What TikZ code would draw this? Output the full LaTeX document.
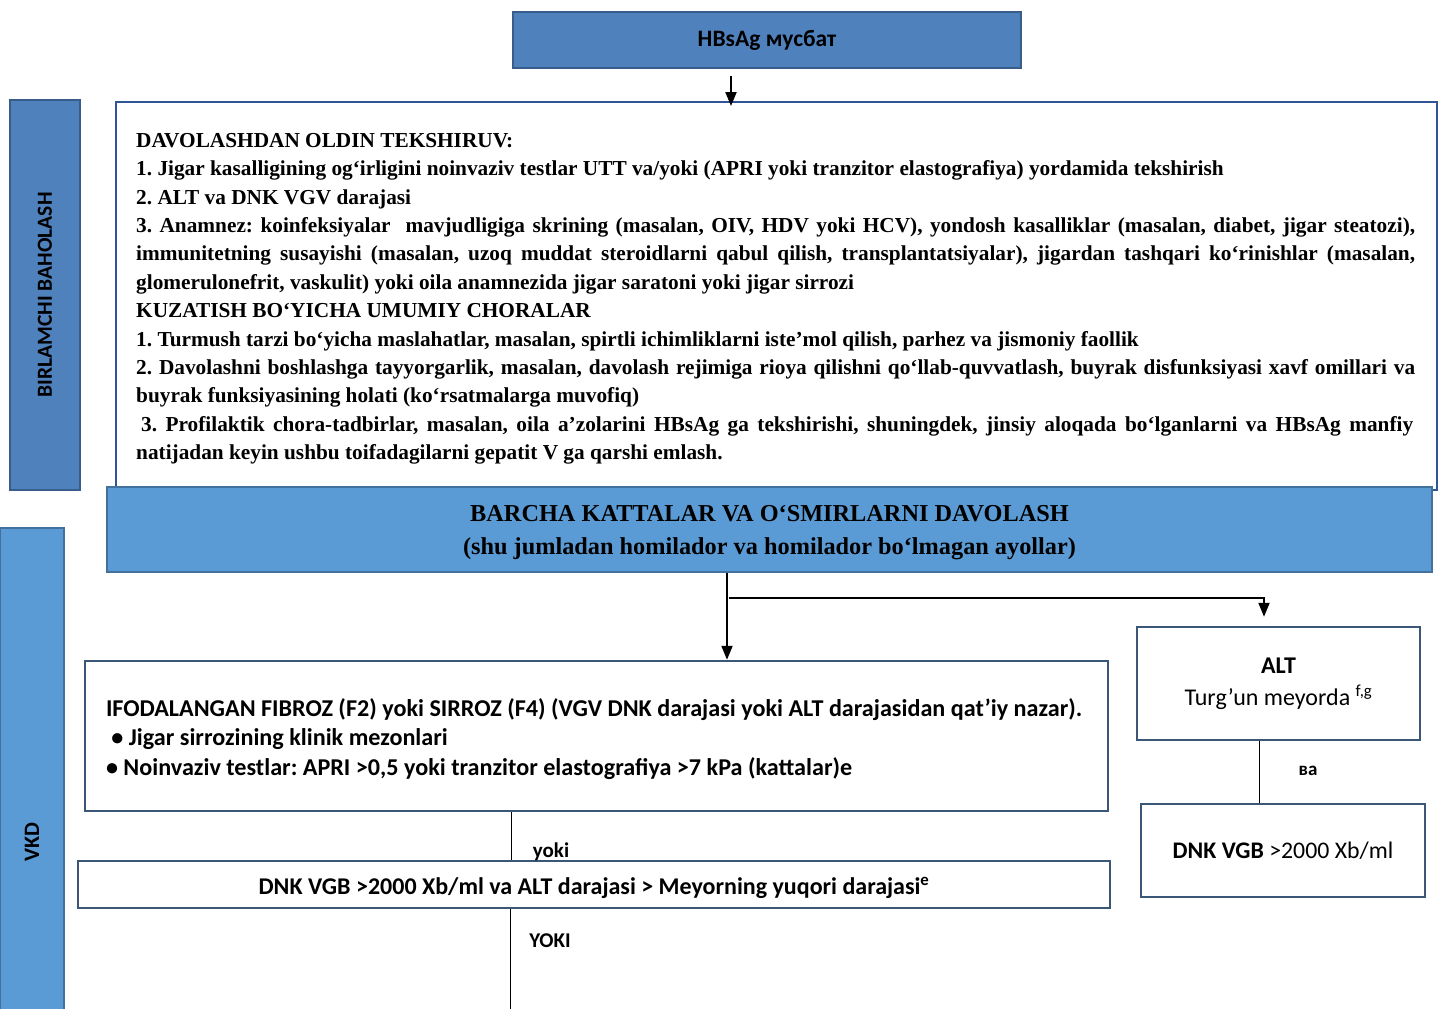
\documentclass[tikz,border=0pt]{standalone}
\usepackage{fontspec}
\setmainfont{Liberation Serif}
\newfontfamily\calfont{Carlito}
\usetikzlibrary{arrows.meta}
\definecolor{blueA}{HTML}{4F81BD}
\definecolor{blueB}{HTML}{5B9BD5}
\definecolor{edgeA}{HTML}{385D8A}
\definecolor{edgeB}{HTML}{41719C}
\definecolor{edgeW}{HTML}{3B5778}
\definecolor{edgeT}{HTML}{2F5597}
\newcommand{\natsp}{\spaceskip=0pt\xspaceskip=0pt\relax}
\newcommand{\jline}[1]{\leavevmode\hbox to 1279pt{#1}}
\frenchspacing
\begin{document}
\begin{tikzpicture}[x=1pt,y=-1pt,
  darkbox/.style={draw=edgeA, fill=blueA, line width=2.5pt, inner sep=0pt},
  lightbox/.style={draw=edgeB, fill=blueB, line width=2.5pt, inner sep=0pt},
  whitebox/.style={draw=edgeW, fill=white, line width=2.5pt, inner sep=0pt},
  arr/.style={-{Triangle[length=14pt,width=11pt]}, line width=2pt, black},
  thinline/.style={line width=1pt, black},
  sanslab/.style={font=\calfont\bfseries\fontsize{21}{25}\selectfont, inner sep=0pt}
]
\useasboundingbox (0,0) rectangle (1443,1009);

% top box
\node[darkbox, minimum width=508pt, minimum height=56pt,
      font=\calfont\bfseries\fontsize{23.5}{26}\selectfont] (hbs) at (767,40) {HBsAg мусбат};

% left side boxes
\node[darkbox, rotate=90, minimum width=390pt, minimum height=70pt,
      font=\calfont\bfseries\fontsize{21.5}{24}\selectfont] (birl) at (45,295) {BIRLAMCHI BAHOLASH};
\node[lightbox, rotate=90, minimum width=628pt, minimum height=64pt,
      font=\calfont\bfseries\fontsize{22}{26}\selectfont] (vkd) at (32,842) {VKD};

% big examination box
\node[draw=edgeT, fill=white, line width=2pt, minimum width=1321pt, minimum height=388pt,
      anchor=north west, inner sep=0pt] (exam) at (115,101) {};
\node[anchor=north west, inner sep=0pt, text width=1279pt, align=left,
      font=\bfseries\fontsize{21.3}{28.4}\selectfont] (examtext) at (136,133) {\natsp
DAVOLASHDAN OLDIN TEKSHIRUV:\\
1. Jigar kasalligining og‘irligini noinvaziv testlar UTT va/yoki (APRI yoki tranzitor elastografiya) yordamida tekshirish\\
2. ALT va DNK VGV darajasi\\
\jline{3. Anamnez: koinfeksiyalar\ \ mavjudligiga skrining (masalan, OIV, HDV yoki HCV), yondosh kasalliklar (masalan, diabet, jigar steatozi),}\\
\jline{immunitetning susayishi (masalan, uzoq muddat steroidlarni qabul qilish, transplantatsiyalar), jigardan tashqari ko‘rinishlar (masalan,}\\
glomerulonefrit, vaskulit) yoki oila anamnezida jigar saratoni yoki jigar sirrozi\\
KUZATISH BO‘YICHA UMUMIY CHORALAR\\
1. Turmush tarzi bo‘yicha maslahatlar, masalan, spirtli ichimliklarni iste’mol qilish, parhez va jismoniy faollik\\
\jline{2. Davolashni boshlashga tayyorgarlik, masalan, davolash rejimiga rioya qilishni qo‘llab-quvvatlash, buyrak disfunksiyasi xavf omillari va}\\
buyrak funksiyasining holati (ko‘rsatmalarga muvofiq)\\
\jline{\kern5pt 3. Profilaktik chora-tadbirlar, masalan, oila a’zolarini HBsAg ga tekshirishi, shuningdek, jinsiy aloqada bo‘lganlarni va HBsAg manfiy\kern2pt}\\
natijadan keyin ushbu toifadagilarni gepatit V ga qarshi emlash.};

% treatment box
\node[lightbox, minimum width=1325pt, minimum height=85pt] (barcha) at (769.5,529.5) {};
\node[align=center, inner sep=0pt, font=\bfseries\fontsize{24.3}{33}\selectfont] (barchatext) at (769.5,532.5)
  {\natsp BARCHA KATTALAR VA O‘SMIRLARNI DAVOLASH\\(shu jumladan homilador va homilador bo‘lmagan ayollar)};

% criteria boxes
\node[whitebox, minimum width=1023pt, minimum height=150pt] (ifoda) at (596.5,736) {};
\node[text width=981pt, inner sep=0pt, align=left,
      font=\calfont\bfseries\fontsize{24.15}{29.5}\selectfont] (ifodatext) at (596.5,739)
  {\natsp IFODALANGAN FIBROZ (F2) yoki SIRROZ (F4) (VGV DNK darajasi yoki ALT darajasidan qat’iy nazar).\\
   \ • Jigar sirrozining klinik mezonlari\\
   • Noinvaziv testlar: APRI >0,5 yoki tranzitor elastografiya >7 kPa (kattalar)e};

\node[whitebox, minimum width=1032pt, minimum height=47pt] (dnkw) at (594,884.5) {};
\node[inner sep=0pt, font=\calfont\bfseries\fontsize{24}{28}\selectfont] (dnkwtext) at (594,887.5)
  {DNK VGB >2000 Xb/ml va ALT darajasi > Meyorning yuqori darajasi\textsuperscript{e}};

\node[whitebox, minimum width=283pt, minimum height=113pt, align=center,
      font=\calfont\fontsize{24}{32}\selectfont] (alt) at (1278.5,683.5)
  {\textbf{ALT}\\Turg’un meyorda \textsuperscript{f,g}};

\node[whitebox, minimum width=284pt, minimum height=93pt,
      font=\calfont\fontsize{23.8}{26}\selectfont] (dnks) at (1283,850.5)
  {\textbf{DNK VGB} >2000 Xb/ml};

% connectors
\draw[arr, shorten <=7pt, shorten >=-5pt] ([xshift=-36pt]hbs.south) -- ([xshift=-36pt]hbs.south |- exam.north);
\draw[arr] ([xshift=-42.5pt]barcha.south) -- ([xshift=-42.5pt]barcha.south |- ifoda.north);
\coordinate (br) at (729,598);
\draw[arr, shorten >=9pt] (br) -| ([xshift=-14.5pt]alt.north);
\draw[thinline] (alt.south -| 1259,0) -- (dnks.north -| 1259,0);
\draw[thinline] (ifoda.south -| 511,0) -- (dnkw.north -| 511,0);
\coordinate (bottomend) at (510,1009);
\draw[thinline] (dnkw.south -| bottomend) -- (bottomend);

% labels
\node[sanslab, font=\calfont\bfseries\fontsize{19}{23}\selectfont] (va) at (1308,771) {ва};
\node[sanslab] (yoki1) at (551,852) {yoki};
\node[sanslab] (yoki2) at (550,941) {YOKI};
\end{tikzpicture}
\end{document}
